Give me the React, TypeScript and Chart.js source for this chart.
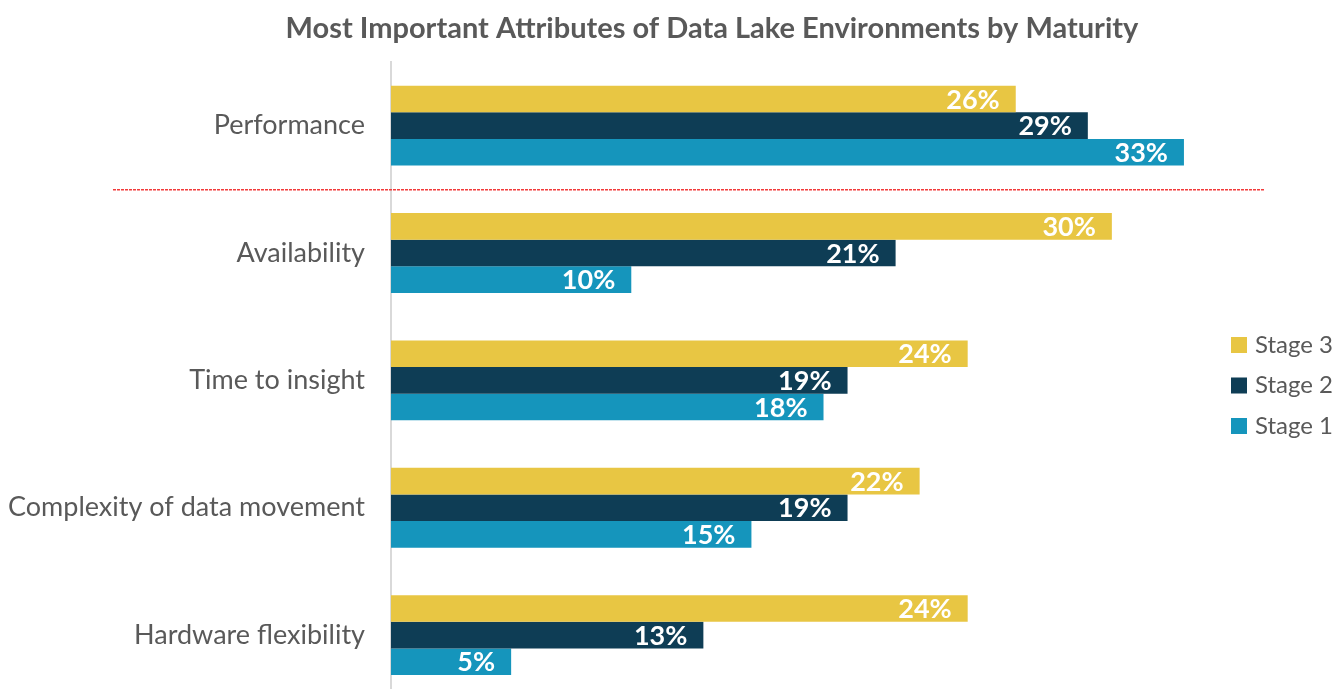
import React, { useEffect, useRef } from "react";
import { Chart, registerables } from "chart.js";

Chart.register(...registerables);

const titleText = "Most Important Attributes of Data Lake Environments by Maturity";
const categories = [
  "Performance",
  "Availability",
  "Time to insight",
  "Complexity of data movement",
  "Hardware flexibility",
];
const seriesNames = ["Stage 3", "Stage 2", "Stage 1"];
const stage3 = [26, 30, 24, 22, 24];
const stage2 = [29, 21, 19, 19, 13];
const stage1 = [33, 10, 18, 15, 5];
const seriesColors = ["#E8C643", "#0E3D55", "#1595BC"];
const xMax = 35;

const FONT = "Lato, 'Noto Sans', sans-serif";
const TEXT_COLOR = "#595959";

export default function App() {
  const ref = useRef<HTMLCanvasElement>(null);

  useEffect(() => {
    document.body.style.margin = "0";
    const canvas = ref.current;
    if (!canvas) return;

    const titlePlugin = {
      id: "customTitle",
      afterDraw(chart: any) {
        const ctx = chart.ctx;
        ctx.save();
        ctx.font = `bold 29px ${FONT}`;
        ctx.fillStyle = TEXT_COLOR;
        ctx.textAlign = "center";
        ctx.textBaseline = "middle";
        ctx.fillText(titleText, 712, 29);
        ctx.restore();
      },
    };

    const separatorPlugin = {
      id: "separator",
      afterDatasetsDraw(chart: any) {
        const y = chart.scales.y;
        const py = Math.round((y.getPixelForValue(0) + y.getPixelForValue(1)) / 2);
        const ctx = chart.ctx;
        ctx.save();
        ctx.fillStyle = "#F23A3A";
        for (let x = 113; x < 1265; x += 4) {
          ctx.fillRect(x, py, 3, 1.5);
        }
        ctx.restore();
      },
    };

    const labelPlugin = {
      id: "barLabels",
      afterDatasetsDraw(chart: any) {
        const ctx = chart.ctx;
        ctx.save();
        ctx.font = `bold 27px ${FONT}`;
        ctx.fillStyle = "#ffffff";
        ctx.textAlign = "right";
        ctx.textBaseline = "middle";
        chart.data.datasets.forEach((ds: any, i: number) => {
          const meta = chart.getDatasetMeta(i);
          meta.data.forEach((el: any, j: number) => {
            ctx.fillText(`${ds.data[j]}%`, el.x - 16, el.y + 1);
          });
        });
        ctx.restore();
      },
    };

    const legendPlugin = {
      id: "customLegend",
      afterDraw(chart: any) {
        const ctx = chart.ctx;
        ctx.save();
        ctx.font = `24px ${FONT}`;
        ctx.textAlign = "left";
        ctx.textBaseline = "middle";
        chart.data.datasets.forEach((ds: any, i: number) => {
          const cy = 345 + i * 40.5;
          ctx.fillStyle = ds.backgroundColor;
          ctx.fillRect(1231, cy - 8, 16, 16);
          ctx.fillStyle = TEXT_COLOR;
          ctx.fillText(ds.label, 1255, cy);
        });
        ctx.restore();
      },
    };

    const chart = new Chart(canvas, {
      type: "bar",
      data: {
        labels: categories,
        datasets: [
          { label: seriesNames[0], data: stage3, backgroundColor: seriesColors[0] },
          { label: seriesNames[1], data: stage2, backgroundColor: seriesColors[1] },
          { label: seriesNames[2], data: stage1, backgroundColor: seriesColors[2] },
        ],
      },
      options: {
        indexAxis: "y",
        responsive: false,
        animation: false,
        layout: { padding: { top: 62, right: 105, bottom: 0, left: 0 } },
        datasets: {
          bar: { barPercentage: 1, categoryPercentage: 0.627, borderWidth: 0 },
        },
        plugins: {
          legend: { display: false },
          title: { display: false },
          tooltip: { enabled: false },
        },
        scales: {
          x: {
            display: false,
            min: 0,
            max: xMax,
          },
          y: {
            afterFit: (s: any) => {
              s.width = 391;
            },
            grid: { display: false },
            border: { display: true, color: "#D9D9D9", width: 2 },
            ticks: {
              padding: 18,
              color: TEXT_COLOR,
              font: { family: FONT, size: 27 },
            },
          },
        },
      },
      plugins: [titlePlugin, separatorPlugin, labelPlugin, legendPlugin],
    } as any);

    return () => chart.destroy();
  }, []);

  return (
    <div style={{ position: "fixed", top: 0, left: 0, width: 1337, height: 733, overflow: "hidden" }}>
      <canvas ref={ref} width={1337} height={733} />
    </div>
  );
}
